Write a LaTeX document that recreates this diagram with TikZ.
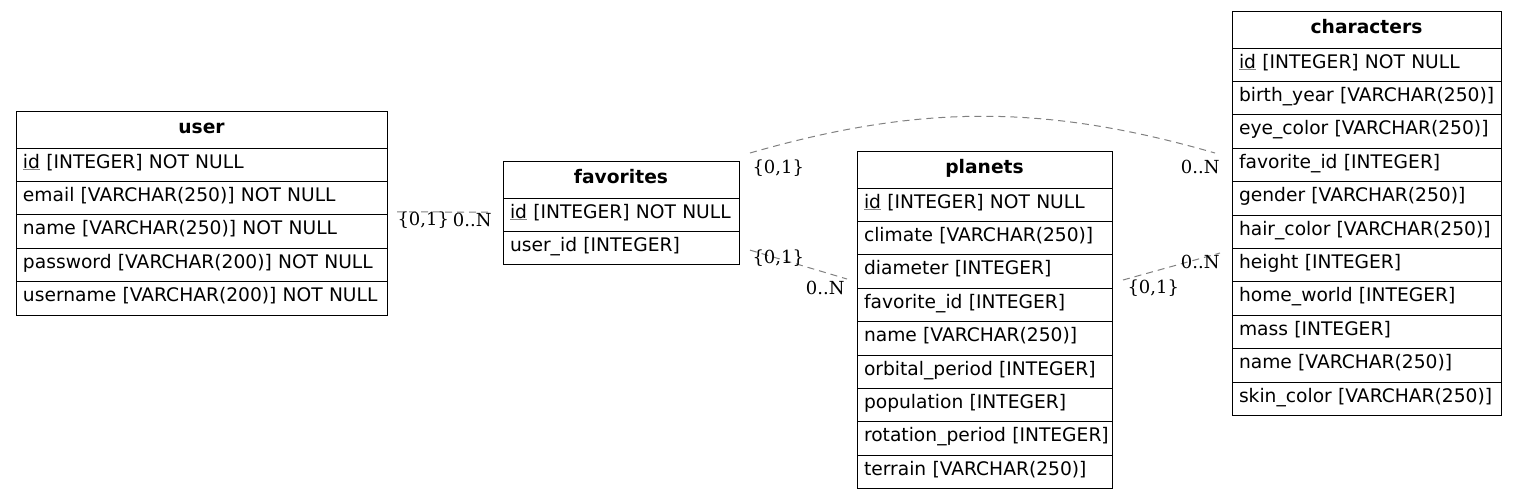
\documentclass[tikz,border=0pt]{standalone}
\usepackage{fontspec}
\usepackage{xcolor}
\usepackage{tikz}
\usetikzlibrary{positioning}
\newfontfamily\tblfont{DejaVu Sans}
\newfontfamily\cardfont{DejaVu Serif}
\definecolor{relgray}{RGB}{128,128,128}
\newcommand{\pkey}[1]{\rlap{\color{relgray}\underline{\phantom{#1}}}#1}

\begin{document}
\begin{tikzpicture}[x=1pt, y=1pt,
    thead/.style={rectangle, draw=black, line width=0.9pt, fill=white, text width=#1, inner xsep=7pt, inner ysep=0pt, outer sep=0pt, minimum height=37pt, text height=12pt, text depth=4.4pt, align=center, font=\tblfont\fontsize{18.67}{22}\selectfont\bfseries},
    trow/.style={thead=#1, minimum height=33.4pt, text height=11pt, align=left, font=\tblfont\fontsize{18.67}{22}\selectfont, execute at begin node={\hbox\bgroup}, execute at end node={\egroup}},
    rel/.style={draw=relgray, line width=1pt, dash pattern=on 7pt off 5pt},
    card/.style={inner sep=0pt, text=black, font=\cardfont\fontsize{18}{22}\selectfont}]
    \useasboundingbox (0,0) rectangle (1517,-499);

    % user
    \node[thead=357pt, anchor=north west] (user) at (16,-111) {user};
    \node[trow=357pt, below=0pt of user] (user-id) {\pkey{id} [INTEGER] NOT NULL};
    \node[trow=357pt, below=0pt of user-id] (user-email) {email [VARCHAR(250)] NOT NULL};
    \node[trow=357pt, below=0pt of user-email] (user-name) {name [VARCHAR(250)] NOT NULL};
    \node[trow=357pt, below=0pt of user-name] (user-pwd) {password [VARCHAR(200)] NOT NULL};
    \node[trow=357pt, below=0pt of user-pwd] (user-uname) {username [VARCHAR(200)] NOT NULL};

    % favorites
    \node[thead=222pt, anchor=north west] (fav) at (503,-161) {favorites};
    \node[trow=222pt, below=0pt of fav] (fav-id) {\pkey{id} [INTEGER] NOT NULL};
    \node[trow=222pt, below=0pt of fav-id] (fav-uid) {user\_id [INTEGER]};

    % planets
    \node[thead=241pt, anchor=north west] (pl) at (857,-151) {planets};
    \node[trow=241pt, below=0pt of pl] (pl-id) {\pkey{id} [INTEGER] NOT NULL};
    \node[trow=241pt, below=0pt of pl-id] (pl-climate) {climate [VARCHAR(250)]};
    \node[trow=241pt, below=0pt of pl-climate] (pl-diam) {diameter [INTEGER]};
    \node[trow=241pt, below=0pt of pl-diam] (pl-fav) {favorite\_id [INTEGER]};
    \node[trow=241pt, below=0pt of pl-fav] (pl-name) {name [VARCHAR(250)]};
    \node[trow=241pt, below=0pt of pl-name] (pl-orbit) {orbital\_period [INTEGER]};
    \node[trow=241pt, below=0pt of pl-orbit] (pl-pop) {population [INTEGER]};
    \node[trow=241pt, below=0pt of pl-pop] (pl-rot) {rotation\_period [INTEGER]};
    \node[trow=241pt, below=0pt of pl-rot] (pl-terrain) {terrain [VARCHAR(250)]};

    % characters
    \node[thead=255pt, anchor=north west] (chars) at (1232,-11) {characters};
    \node[trow=255pt, below=0pt of chars] (chars-id) {\pkey{id} [INTEGER] NOT NULL};
    \node[trow=255pt, below=0pt of chars-id] (chars-birth) {birth\_year [VARCHAR(250)]};
    \node[trow=255pt, below=0pt of chars-birth] (chars-eye) {eye\_color [VARCHAR(250)]};
    \node[trow=255pt, below=0pt of chars-eye] (chars-fav) {favorite\_id [INTEGER]};
    \node[trow=255pt, below=0pt of chars-fav] (chars-gender) {gender [VARCHAR(250)]};
    \node[trow=255pt, below=0pt of chars-gender] (chars-hair) {hair\_color [VARCHAR(250)]};
    \node[trow=255pt, below=0pt of chars-hair] (chars-height) {height [INTEGER]};
    \node[trow=255pt, below=0pt of chars-height] (chars-home) {home\_world [INTEGER]};
    \node[trow=255pt, below=0pt of chars-home] (chars-mass) {mass [INTEGER]};
    \node[trow=255pt, below=0pt of chars-mass] (chars-name) {name [VARCHAR(250)]};
    \node[trow=255pt, below=0pt of chars-name] (chars-skin) {skin\_color [VARCHAR(250)]};

    % relations
    \draw[rel] ([shift={(10,3)}]user-name.north east) -- ([shift={(-11,2.5)}]fav-id.west)
        node[card, at start, anchor=west, yshift=-8pt] (user-card) {\{0,1\}}
        node[card, at end, anchor=east, yshift=-8pt] (fav-card) {0..N};
    \draw[rel] ([shift={(11,8)}]fav.north east) .. controls +(170,49) and +(-170,49) .. ([shift={(-17,-4.8)}]chars-eye.south west)
        node[card, at start, anchor=west, xshift=2pt, yshift=-15pt] (fav-chars-card) {\{0,1\}}
        node[card, at end, anchor=east, xshift=5pt, yshift=-14pt] (chars-card) {0..N};
    \draw[rel] ([shift={(11,-2)}]fav-uid.east) -- ([shift={(-10,-7.5)}]pl-diam.west)
        node[card, at start, anchor=west, xshift=2pt, yshift=-8pt] (fav-pl-card) {\{0,1\}}
        node[card, at end, anchor=east, xshift=-2pt, yshift=-9pt] (pl-card) {0..N};
    \draw[rel] ([shift={(11,-8.5)}]pl-diam.east) -- ([shift={(-12,-4.6)}]chars-height.north west)
        node[card, at start, anchor=west, xshift=4pt, yshift=-8pt] (pl-chars-card) {\{0,1\}}
        node[card, at end, anchor=east, yshift=-9pt] (chars-pl-card) {0..N};
\end{tikzpicture}
\end{document}
